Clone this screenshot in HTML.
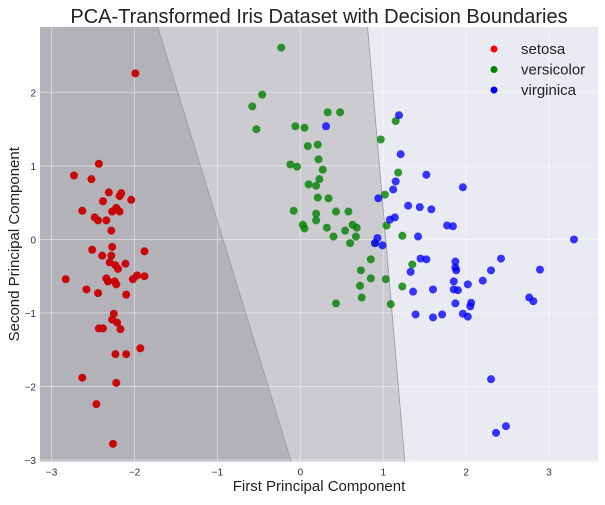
<!DOCTYPE html>
<html><head><meta charset="utf-8"><style>
body{margin:0;background:#fff;font-family:"Liberation Sans",sans-serif}
svg text{font-family:"Liberation Sans",sans-serif}
</style></head><body>
<svg id="chart" width="605" height="500" xmlns="http://www.w3.org/2000/svg"></svg>
<script>
const setosaX=[-1.99,-2.43,-2.73,-2.52,-2.31,-2.16,-2.18,-2.38,-2.04,-2.63,-2.22,-2.27,-2.18,-2.48,-2.44,-2.34,-2.28,-2.27,-2.51,-1.88,-2.39,-2.28,-2.30,-2.23,-2.20,-2.11,-2.83,-2.34,-2.32,-2.24,-2.22,-2.02,-1.97,-1.88,-2.58,-2.44,-2.10,-2.25,-2.27,-2.21,-2.43,-2.38,-2.17,-1.93,-2.23,-2.10,-2.63,-2.22,-2.46,-2.26];
const setosaY=[2.26,1.03,0.87,0.82,0.64,0.63,0.59,0.52,0.54,0.39,0.43,0.38,0.38,0.30,0.26,0.26,0.12,-0.10,-0.14,-0.16,-0.22,-0.22,-0.31,-0.35,-0.40,-0.33,-0.54,-0.53,-0.57,-0.57,-0.61,-0.54,-0.49,-0.50,-0.68,-0.73,-0.75,-1.01,-1.09,-1.13,-1.21,-1.21,-1.22,-1.48,-1.56,-1.56,-1.88,-1.95,-2.24,-2.78];
const versiX=[-0.23,-0.46,-0.58,-0.53,0.33,0.48,-0.06,0.05,0.09,0.21,0.22,-0.12,-0.04,0.27,0.23,0.10,0.19,0.21,0.34,-0.08,0.19,0.43,0.58,0.19,0.03,0.05,0.32,0.63,0.68,0.54,0.40,0.67,0.60,0.85,0.73,0.85,0.72,0.74,0.43,1.03,1.09,0.97,1.18,1.02,1.04,1.23,1.35,1.23,1.15,0.90];
const versiY=[2.61,1.97,1.81,1.50,1.73,1.73,1.54,1.52,1.27,1.29,1.09,1.02,0.99,0.95,0.82,0.75,0.73,0.57,0.56,0.39,0.35,0.38,0.38,0.26,0.20,0.15,0.16,0.20,0.16,0.12,0.04,0.04,-0.05,-0.27,-0.42,-0.53,-0.63,-0.79,-0.87,-0.54,-0.88,1.36,0.91,0.61,0.19,0.05,-0.34,-0.64,1.61,-0.05];
const virgX=[1.19,1.21,1.52,1.96,1.15,1.12,0.94,1.30,1.44,1.58,1.08,1.14,1.77,1.84,1.42,3.30,0.93,0.90,0.99,1.45,1.52,2.42,1.87,1.87,1.88,1.33,2.30,2.89,2.20,1.85,2.02,1.60,1.36,1.85,1.90,2.76,2.81,1.87,2.06,2.05,1.39,1.60,1.71,1.96,2.02,2.30,2.36,2.48,0.31];
const virgY=[1.69,1.16,0.88,0.71,0.79,0.68,0.56,0.46,0.44,0.41,0.27,0.30,0.19,0.18,0.04,0.00,0.02,-0.05,-0.08,-0.26,-0.27,-0.26,-0.30,-0.38,-0.42,-0.44,-0.42,-0.41,-0.56,-0.57,-0.61,-0.68,-0.71,-0.68,-0.69,-0.79,-0.84,-0.87,-0.86,-0.91,-1.02,-1.06,-1.02,-1.01,-1.05,-1.90,-2.63,-2.54,1.54];
const boundary1=[[-1.72,2.89],[-0.11,-3.02]];
const boundary2=[[0.81,2.89],[1.26,-3.02]];
const xTicks=[-3,-2,-1,0,1,2,3];
const yTicks=[-3,-2,-1,0,1,2];
const legendNames=["setosa","versicolor","virginica"];

const L=40,R=598,T=27,B=461.5;
const xmin=-3.14,xmax=3.59,ymin=-3.02,ymax=2.89;
const sx=v=>L+(v-xmin)/(xmax-xmin)*(R-L);
const sy=v=>B-(v-ymin)/(ymax-ymin)*(B-T);
const svg=document.getElementById('chart');
const NS='http://www.w3.org/2000/svg';
function mk(tag,attrs,parent){const e=document.createElementNS(NS,tag);for(const k in attrs)e.setAttribute(k,attrs[k]);(parent||svg).appendChild(e);return e;}

let e=mk('rect',{x:L,y:T,width:R-L,height:B-T,fill:'#eaeaf2'});


const b1t=[sx(boundary1[0][0]),sy(boundary1[0][1])],b1b=[sx(boundary1[1][0]),sy(boundary1[1][1])];
const b2t=[sx(boundary2[0][0]),sy(boundary2[0][1])],b2b=[sx(boundary2[1][0]),sy(boundary2[1][1])];
e=mk('polygon',{points:`${L},${T} ${b2t[0]},${b2t[1]} ${b2b[0]},${b2b[1]} ${L},${B}`,fill:'#cbcbd0'});


e=mk('polygon',{points:`${L},${T} ${b1t[0]},${b1t[1]} ${b1b[0]},${b1b[1]} ${L},${B}`,fill:'#b3b2b8'});


xTicks.forEach(t=>{let g=mk('line',{x1:sx(t),x2:sx(t),y1:T,y2:B,stroke:'#fff','stroke-opacity':0.45,'stroke-width':1});


let tx=mk('text',{x:sx(t),y:B+14,'font-size':10,'text-anchor':'middle',fill:'#333'});tx.textContent=(t<0?'\u2212'+(-t):t);

});
yTicks.forEach(t=>{let g=mk('line',{x1:L,x2:R,y1:sy(t),y2:sy(t),stroke:'#fff','stroke-opacity':0.45,'stroke-width':1});


let tx=mk('text',{x:L-4,y:sy(t)+4,'font-size':10,'text-anchor':'end',fill:'#333'});tx.textContent=(t<0?'\u2212'+(-t):t);

});
[[b1t,b1b],[b2t,b2b]].forEach(b=>{let l=mk('line',{x1:b[0][0],y1:b[0][1],x2:b[1][0],y2:b[1][1],stroke:'#999','stroke-width':0.8});

});
function pts(xs,ys,col,op,name){xs.forEach((x,i)=>{let c=mk('circle',{cx:sx(x),cy:sy(ys[i]),r:4,fill:col,'fill-opacity':op});

});}
pts(setosaX,setosaY,'#c80000',0.95,'setosa-point');
pts(versiX,versiY,'#008000',0.8,'versicolor-point');
pts(virgX,virgY,'#0000ff',0.78,'virginica-point');
const lc=['#ff0000','#008000','#0000ff'];
legendNames.forEach((n,i)=>{let c=mk('circle',{cx:494,cy:49+i*20.5,r:3.5,fill:lc[i]});


let t=mk('text',{x:521,y:54+i*20.5,'font-size':15,fill:'#222'});t.textContent=n;

});
let tt=mk('text',{x:319,y:23,'font-size':20,'text-anchor':'middle',fill:'#222'});tt.textContent='PCA-Transformed Iris Dataset with Decision Boundaries';


let xl=mk('text',{x:319,y:491,'font-size':15,'text-anchor':'middle',fill:'#222'});xl.textContent='First Principal Component';


let yl=mk('text',{x:0,y:0,'font-size':15,'text-anchor':'middle',fill:'#222',transform:`translate(19,${(T+B)/2}) rotate(-90)`});yl.textContent='Second Principal Component';


</script>
</body></html>
